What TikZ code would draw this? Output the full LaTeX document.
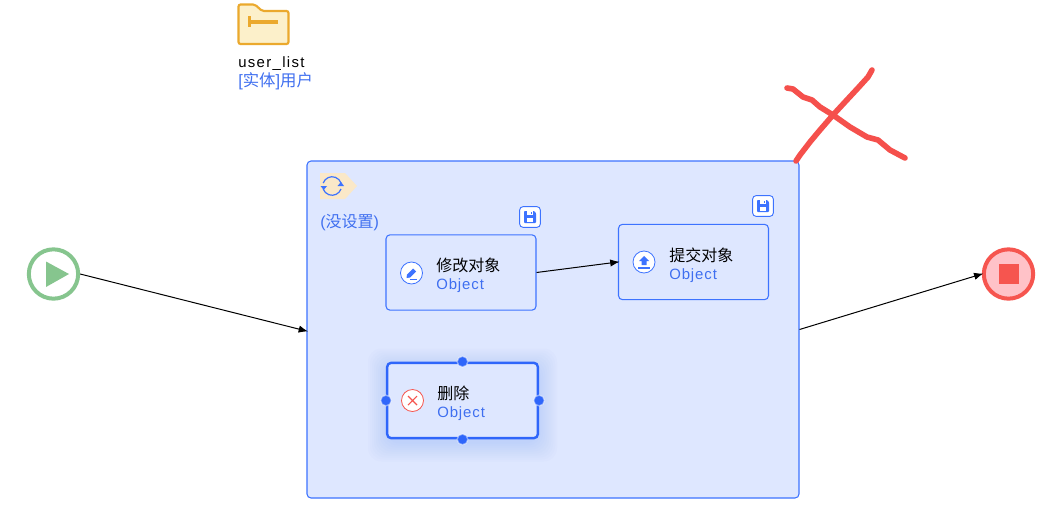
\documentclass[tikz,border=0pt]{standalone}
\usepackage{fontspec}
\setmainfont{Liberation Sans}
\newfontfamily\cjk{Noto Sans CJK SC}
\newfontfamily\latsp[LetterSpace=6]{Liberation Sans}
\newfontfamily\latusr[LetterSpace=9]{Liberation Sans}
\usetikzlibrary{arrows.meta,calc}
\definecolor{bluemain}{HTML}{3D73FF}
\definecolor{bluetext}{HTML}{3F6FF0}
\definecolor{blueline}{HTML}{2F66FA}
\definecolor{panel}{HTML}{DEE7FF}
\definecolor{foldfill}{HTML}{FCF0CA}
\definecolor{foldline}{HTML}{EBA92D}
\definecolor{badge}{HTML}{FAE8C8}
\definecolor{startg}{HTML}{86C58E}
\definecolor{stopr}{HTML}{F6554F}
\definecolor{stopfill}{HTML}{FFC2C8}
\definecolor{inkred}{HTML}{F5504C}
\tikzset{
  x=0.75pt,y=-0.75pt,
  task/.style={draw=bluemain,line width=0.8pt,fill=panel,rounded corners=3pt,minimum width=112.5pt,minimum height=56.5pt,inner sep=0pt},
  lab/.style={anchor=west,inner sep=0pt,text=black,font=\cjk\fontsize{12pt}{14pt}\selectfont},
  sub/.style={anchor=west,inner sep=0pt,text=bluetext,font=\latsp\fontsize{11.2pt}{13pt}\selectfont},
  conn/.style={draw=black,line width=0.75pt,shorten >=-1.2pt,-{Latex[length=7pt,width=5.5pt]}},
  handle/.style={circle,fill=blueline,draw=white,draw opacity=0.45,line width=1pt,minimum size=8pt,inner sep=0pt},
  iconc/.style={circle,draw=bluemain,fill=white,line width=0.6pt,minimum size=16.5pt,inner sep=0pt},
  savebox/.style={draw=bluemain,fill=white,rounded corners=2.5pt,line width=0.7pt,minimum size=15.5pt,inner sep=0pt},
  ink/.style={draw=inkred,line width=4.2pt,line cap=round,line join=round},
}
\begin{document}
\begin{tikzpicture}
\useasboundingbox[fill=white] (0,0) rectangle (1049,525);
% folder
\draw[draw=foldline,fill=foldfill,line width=1.6pt,rounded corners=1.5pt]
  (238.5,44) -- (238.5,4.5) -- (255,4.5) -- (262,11) -- (288.5,11) -- (288.5,44) -- cycle;
\fill[foldline] (248,16) rectangle (251,27);
\fill[foldline] (251,19.5) rectangle (278,23.5);
\node[anchor=west,inner sep=0pt,font=\latusr\fontsize{11.2pt}{13pt}\selectfont] (ulist) at (238,63.5) {user\_list};
\node[anchor=west,inner sep=0pt,text=bluetext,font=\fontsize{12.3pt}{14pt}\selectfont] (uent) at (238,81) {[{\cjk 实体}]{\cjk 用户}};
% container
\node[draw=bluemain,fill=panel,line width=0.8pt,rounded corners=3pt,minimum width=369pt,minimum height=252.75pt,inner sep=0pt] (container) at (553,329.5) {};
% loop badge
\fill[badge] (320,173) -- (345,173) -- (357,186) -- (345,199) -- (320,199) -- cycle;
\draw[bluemain,line width=0.9pt] (323.2,183) arc[start angle=200,end angle=340,radius=9.5];
\draw[bluemain,line width=0.9pt] (341,189) arc[start angle=20,end angle=160,radius=9.5];
\fill[bluemain] (320.5,186) -- (327,186) -- (323.7,190) -- cycle;
\fill[bluemain] (337.5,186) -- (344,186) -- (341,182) -- cycle;
\node[anchor=west,inner sep=0pt,text=bluetext,font=\fontsize{12pt}{14pt}\selectfont] (unset) at (320,223) {({\cjk 没设置})};
% tasks
\node[task] (n1) at (461,272.5) {};
\node[task] (n2) at (693.5,262) {};
% selected shadow
\foreach \g in {1,3,...,19}
  \fill[blueline,opacity=0.014,rounded corners=10pt] ($(462.5,405)+(-75.5-\g,-37.5-\g)$) rectangle ($(462.5,405)+(75.5+\g,37.5+\g)$);
\node[task,draw=blueline,line width=1.8pt,minimum width=113pt] (n3) at (462.5,400.5) {};
\node[handle] (h1) at (n3.north) {};
\node[handle] (h2) at (n3.south) {};
\node[handle] (h3) at (n3.west) {};
\node[handle] (h4) at (n3.east) {};
% labels
\node[lab] (t1) at (436,265) {修改对象};
\node[sub] (s1) at (436,285.5) {Object};
\node[lab] (t2) at (669,255) {提交对象};
\node[sub] (s2) at (669,275.5) {Object};
\node[lab] (t3) at (437,393) {删除};
\node[sub] (s3) at (437,413.5) {Object};
% task icons
\node[iconc] (i1) at (411.5,273) {};
\fill[bluemain] (406.5,278) -- (407,274.5) -- (413,268.5) -- (416,271.5) -- (410,277.5) -- cycle;
\draw[bluemain,line width=0.7pt] (410,279) -- (417,279);
\node[iconc] (i2) at (644,262) {};
\fill[bluemain] (644,256) -- (649,261) -- (646.5,261) -- (646.5,265) -- (641.5,265) -- (641.5,261) -- (639,261) -- cycle;
\draw[bluemain,line width=1pt] (638,268) -- (650,268);
\node[iconc,draw=stopr,fill=white] (i3) at (412.5,400.5) {};
\draw[stopr,line width=0.8pt] (408,396) -- (417,405) (417,396) -- (408,405);
% save icons
\foreach \nm/\cx/\cy in {sv1/530/217,sv2/763/206}{
  \node[savebox] (\nm) at (\cx,\cy) {};
  \fill[bluemain,rounded corners=0.6pt] (\cx-6,\cy-6) -- (\cx+4,\cy-6) -- (\cx+6,\cy-4) -- (\cx+6,\cy+6) -- (\cx-6,\cy+6) -- cycle;
  \fill[white] (\cx-3,\cy-6) rectangle (\cx+3,\cy-2);
  \fill[white] (\cx-3,\cy+1) rectangle (\cx+3,\cy+5);
  \fill[bluemain] (\cx+0.5,\cy-5) rectangle (\cx+2,\cy-3);
}
% start
\node[circle,draw=startg,fill=white,line width=3pt,minimum size=37pt,inner sep=0pt] (start) at (53.5,274) {};
\fill[startg] (46,261.5) -- (69,274) -- (46,287) -- cycle;
% stop
\node[circle,draw=stopr,fill=stopfill,line width=3pt,minimum size=37pt,inner sep=0pt] (stop) at (1008.5,274) {};
\fill[stopr] (998.5,264) rectangle (1018.5,284);
% connectors
\draw[conn] (start.east) -- ($(container.west)+(0,1.5)$);
\draw[conn] (n1.east) -- (n2.west);
\draw[conn] (container.east) -- (stop.west);
% ink cross
\draw[ink] (872,70) -- (868,77) -- (858,88) -- (845,102) -- (833,115) -- (820,130) -- (810,142) -- (800,155) -- (796,161);
\draw[ink] (787,88) -- (793,89) -- (803,97) -- (812,100) -- (820,107) -- (833,115) -- (850,127) -- (867,137) -- (878,140) -- (890,150) -- (905,158);
\end{tikzpicture}
\end{document}
